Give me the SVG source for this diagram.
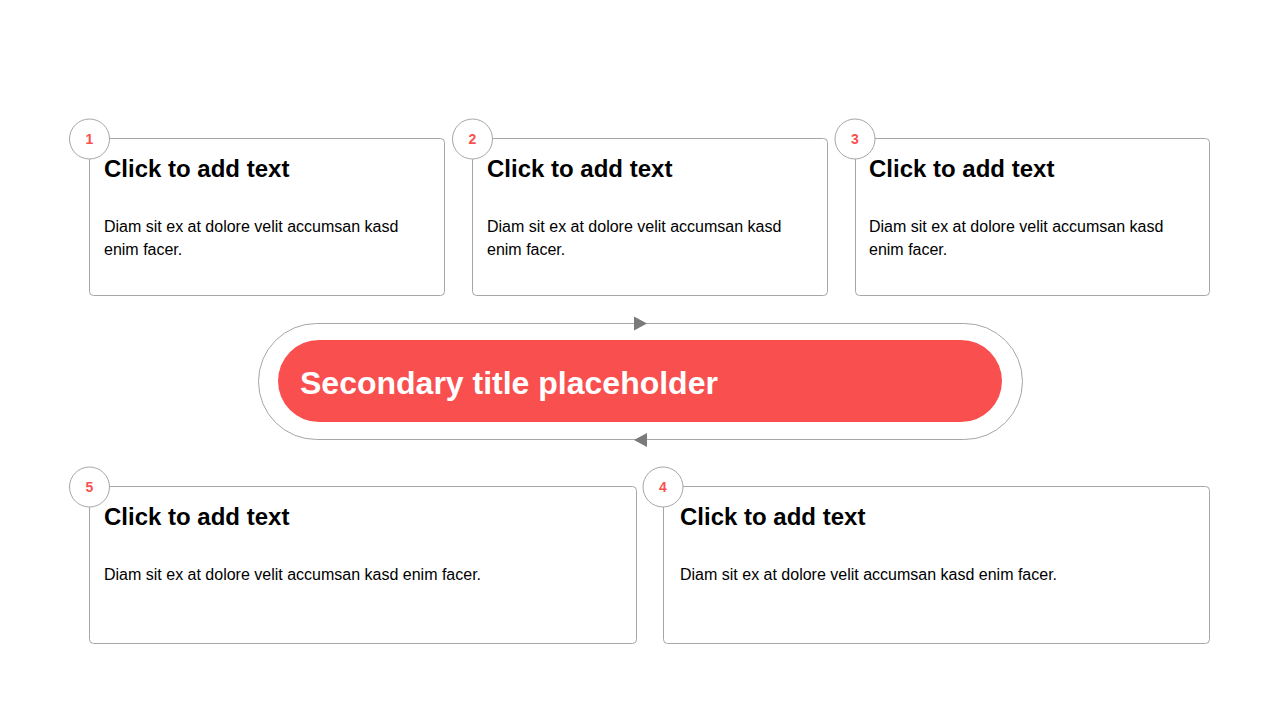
<svg xmlns="http://www.w3.org/2000/svg" width="1280" height="720" viewBox="0 0 1280 720">
<style>
.box{fill:#fff;stroke:#a6a6a6;stroke-width:1}
.num{fill:#fff;stroke:#a6a6a6;stroke-width:1}
.numt{font-family:"Liberation Sans",Arial,sans-serif;font-size:14px;font-weight:bold;fill:#f94f4f;text-anchor:middle}
.h{font-family:"Liberation Sans",Arial,sans-serif;font-size:24px;font-weight:bold;fill:#000}
.b{font-family:"Liberation Sans",Arial,sans-serif;font-size:16px;fill:#000}
.ttl{font-family:"Liberation Sans",Arial,sans-serif;font-size:32px;font-weight:bold;fill:#fff}
</style>
<rect width="1280" height="720" fill="#fff"/>
<g id="connectors">
<rect x="258.5" y="323.5" width="764" height="116" rx="58" fill="none" stroke="#a6a6a6"/>
<polygon points="634,316.5 647,323.5 634,330.5" fill="#7a7a7a"/>
<polygon points="647,433 634,440 647,447" fill="#7a7a7a"/>
</g>
<g id="center">
<rect x="278" y="340" width="724" height="82" rx="41" fill="#f94f4f"/>
<text class="ttl" x="300" y="394">Secondary title placeholder</text>
</g>
<g id="node1">
<rect class="box" x="89.5" y="138.5" width="355" height="157" rx="4"/>
<circle class="num" cx="89.5" cy="139" r="20"/>
<text class="numt" x="89.5" y="144">1</text>
<text class="h" x="104" y="177">Click to add text</text>
<text class="b" x="104" y="232">Diam sit ex at dolore velit accumsan kasd</text>
<text class="b" x="104" y="255">enim facer.</text>
</g>
<g id="node2">
<rect class="box" x="472.5" y="138.5" width="355" height="157" rx="4"/>
<circle class="num" cx="472.5" cy="139" r="20"/>
<text class="numt" x="472.5" y="144">2</text>
<text class="h" x="487" y="177">Click to add text</text>
<text class="b" x="487" y="232">Diam sit ex at dolore velit accumsan kasd</text>
<text class="b" x="487" y="255">enim facer.</text>
</g>
<g id="node3">
<rect class="box" x="855.5" y="138.5" width="354" height="157" rx="4"/>
<circle class="num" cx="855" cy="139" r="20"/>
<text class="numt" x="855" y="144">3</text>
<text class="h" x="869" y="177">Click to add text</text>
<text class="b" x="869" y="232">Diam sit ex at dolore velit accumsan kasd</text>
<text class="b" x="869" y="255">enim facer.</text>
</g>
<g id="node5">
<rect class="box" x="89.5" y="486.5" width="547" height="157" rx="4"/>
<circle class="num" cx="89.5" cy="487" r="20"/>
<text class="numt" x="89.5" y="492">5</text>
<text class="h" x="104" y="525">Click to add text</text>
<text class="b" x="104" y="580">Diam sit ex at dolore velit accumsan kasd enim facer.</text>
</g>
<g id="node4">
<rect class="box" x="663.5" y="486.5" width="546" height="157" rx="4"/>
<circle class="num" cx="663" cy="487" r="20"/>
<text class="numt" x="663" y="492">4</text>
<text class="h" x="680" y="525">Click to add text</text>
<text class="b" x="680" y="580">Diam sit ex at dolore velit accumsan kasd enim facer.</text>
</g>
</svg>
